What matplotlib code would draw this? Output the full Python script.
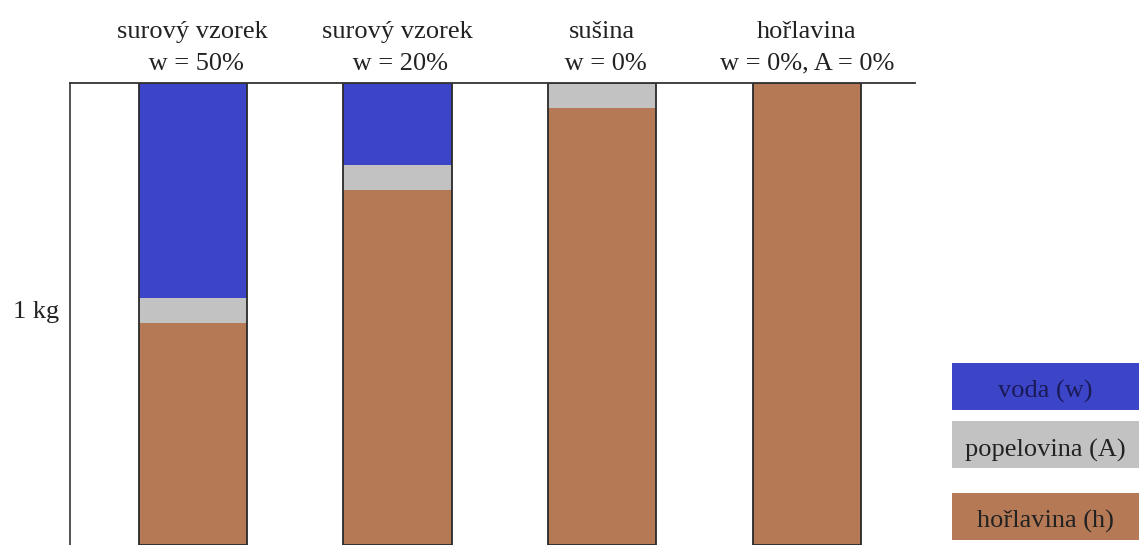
import matplotlib.pyplot as plt
import numpy as np
from matplotlib.patches import Rectangle

plt.rcParams['font.family'] = ['Liberation Serif', 'DejaVu Serif']

# sloupce (podíly v %)
kategorie = ['surový vzorek\n w = 50%', 'surový vzorek\n w = 20%', 'sušina\n w = 0%', 'hořlavina\nw = 0%, A = 0%']
horlavina = [48.1, 76.9, 94.6, 100.0]
popelovina = [5.4, 5.4, 5.4, 0.0]
voda = [46.5, 17.7, 0.0, 0.0]

legenda = ['voda (w)', 'popelovina (A)', 'hořlavina (h)']
barvy = ['#3c44c8', '#c2c2c2', '#b57955']

x = np.arange(len(kategorie))
w = 0.53

fig = plt.figure(figsize=(11.39, 5.45), dpi=100)
ax = fig.add_axes([0.0615, -0.01, 0.742, 0.8577])

h = np.array(horlavina)
a = np.array(popelovina)
v = np.array(voda)
ax.bar(x, h, width=w, color=barvy[2], lw=0)
ax.bar(x, a, width=w, bottom=h, color=barvy[1], lw=0)
ax.bar(x, v, width=w, bottom=h + a, color=barvy[0], lw=0)
# obrys sloupcu
ax.bar(x, h + a + v, width=w, fill=False, edgecolor='#2a2a2a', lw=1.3)

ax.set_xlim(-0.6, 3.53)
ax.set_ylim(-1.2, 100)

ax.xaxis.tick_top()
ax.set_xticks(x)
ax.set_xticklabels(kategorie, fontsize=19, color='#222222', linespacing=1.55)
ax.tick_params(axis='x', length=0, pad=6)
ax.set_yticks([51])
ax.set_yticklabels(['1 kg'], fontsize=19, color='#222222')
ax.tick_params(axis='y', length=0, pad=8)

ax.spines['right'].set_visible(False)
ax.spines['bottom'].set_visible(False)
ax.spines['top'].set_color('#333333')
ax.spines['left'].set_color('#444444')
ax.spines['top'].set_linewidth(1.3)
ax.spines['left'].set_linewidth(1.3)

# legenda
ys = [0.248, 0.141, 0.01]
for lab, c, y0 in zip(legenda, barvy, ys):
    fig.patches.append(Rectangle((0.836, y0), 0.17, 0.086, transform=fig.transFigure,
                                 facecolor=c, edgecolor='none'))
    tc = '#1a1a55' if c == barvy[0] else '#222222'
    fig.text(0.918, y0 + 0.038, lab, ha='center', va='center_baseline', fontsize=19, color=tc)

fig.savefig('out.png', dpi=100)
